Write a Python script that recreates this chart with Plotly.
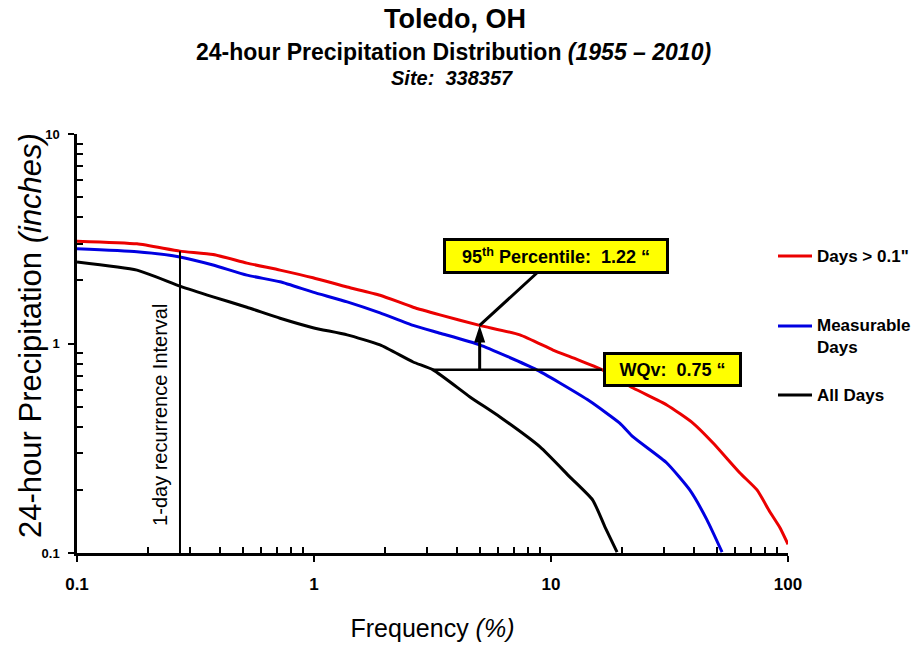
import math
import plotly.graph_objects as go

# ---- data ----
red_x = [0.1, 0.179, 0.272, 0.375, 0.521, 0.719, 0.99, 1.38, 1.90, 2.62, 3.40, 5.0, 7.39, 10.2, 12.4,
         16.4, 22.2, 30.8, 39.7, 48.3, 62.7, 74.0, 83.9, 92.5, 100]
red_y = [3.08, 2.99, 2.76, 2.66, 2.42, 2.24, 2.06, 1.86, 1.70, 1.49, 1.37, 1.22, 1.10, 0.931, 0.853,
         0.75, 0.613, 0.509, 0.417, 0.335, 0.241, 0.200, 0.157, 0.132, 0.11]

blue_x = [0.1, 0.179, 0.272, 0.375, 0.521, 0.719, 0.99, 1.38, 1.90, 2.62, 3.40, 5.0, 8.56, 10.9,
          14.6, 19.5, 22.2, 30.8, 38.5, 45.5, 52.7]
blue_y = [2.83, 2.74, 2.59, 2.37, 2.12, 1.97, 1.76, 1.58, 1.40, 1.22, 1.12, 0.985, 0.756, 0.648,
          0.53, 0.417, 0.358, 0.269, 0.200, 0.144, 0.101]

black_x = [0.1, 0.179, 0.272, 0.375, 0.521, 0.719, 0.99, 1.38, 1.90, 2.62, 3.18, 4.55, 6.09, 8.99,
           12.0, 15.0, 16.9, 19.0]
black_y = [2.45, 2.24, 1.88, 1.67, 1.49, 1.32, 1.19, 1.10, 0.985, 0.816, 0.748, 0.556, 0.446, 0.321,
           0.231, 0.179, 0.133, 0.101]

series_names = ['Days > 0.1"', "Measurable<br>Days", "All Days"]
series_colors = ["rgb(235,0,0)", "rgb(0,0,225)", "black"]

recurrence_x = 0.272          # 1-day recurrence interval (% frequency)
recurrence_top = 2.76
wqv_value = 0.75
wqv_x = [3.18, 16.4]
p95_x = 5.0
p95_value = 1.22

x_tick_vals = [0.1, 1, 10, 100]
x_tick_text = ["0.1", "1", "10", "100"]
y_tick_vals = [0.1, 1, 10]
y_tick_text = ["0.1", "1", "10"]

FONT = "Arial, Liberation Sans, sans-serif"


def minor_vals(major):
    out = []
    for m in major[:-1]:
        out += [m * k for k in range(2, 10)]
    return out


fig = go.Figure()
for xs, ys, nm, col in zip([red_x, blue_x, black_x], [red_y, blue_y, black_y], series_names, series_colors):
    fig.add_trace(go.Scatter(x=xs, y=ys, mode="lines", name=nm,
                             line=dict(color=col, width=3, shape="spline", smoothing=0.5),
                             showlegend=False))

# recurrence line
fig.add_trace(go.Scatter(x=[recurrence_x, recurrence_x], y=[0.1, recurrence_top], mode="lines",
                         line=dict(color="black", width=2), showlegend=False, hoverinfo="skip"))
# WQv horizontal line
fig.add_trace(go.Scatter(x=wqv_x, y=[wqv_value, wqv_value], mode="lines",
                         line=dict(color="black", width=2.5), showlegend=False, hoverinfo="skip"))
# vertical arrow WQv -> 95th percentile
fig.add_trace(go.Scatter(x=[p95_x, p95_x], y=[wqv_value, p95_value], mode="lines+markers",
                         line=dict(color="black", width=3),
                         marker=dict(symbol=["circle", "arrow"], size=[0, 18], color="black",
                                     opacity=1, line=dict(width=0), angleref="previous"),
                         showlegend=False, hoverinfo="skip"))

L = math.log10
annotations = []
# 95th percentile box with pointer
annotations.append(dict(x=L(p95_x), y=L(p95_value), ax=1.021, ay=0.420,
                        xref="x", yref="y", axref="x", ayref="y", showarrow=True,
                        arrowhead=0, arrowwidth=3, arrowcolor="black",
                        text="<b>95<sup>th</sup> Percentile:  1.22 \u201c</b>",
                        font=dict(family=FONT, size=18, color="black"),
                        bgcolor="rgb(255,255,0)", bordercolor="black", borderwidth=3, borderpad=2,
                        width=216, height=26))
# WQv box
annotations.append(dict(x=1.511, y=L(wqv_value), xref="x", yref="y", showarrow=False,
                        text="<b>WQv:\u00a0 0.75 \u201c</b>",
                        font=dict(family=FONT, size=18, color="black"),
                        bgcolor="rgb(255,255,0)", bordercolor="black", borderwidth=3, borderpad=2,
                        width=129, height=25))
# recurrence label
annotations.append(dict(x=-0.650, y=-0.341, xref="x", yref="y", showarrow=False, textangle=-90,
                        text="1-day recurrence Interval", font=dict(family=FONT, size=20, color="black")))


def px2paper(px, py):
    return (px - 77) / 711.0, (553 - py) / 419.0


# titles
tx, ty = px2paper(455, 19)
annotations.append(dict(x=tx, y=ty, xref="paper", yref="paper", showarrow=False,
                        xanchor="center", yanchor="middle",
                        text="<b>Toledo, OH</b>", font=dict(family=FONT, size=27, color="black")))
tx, ty = px2paper(453, 52)
annotations.append(dict(x=tx, y=ty, xref="paper", yref="paper", showarrow=False,
                        xanchor="center", yanchor="middle",
                        text="<b>24-hour Precipitation Distribution <i>(1955 \u2013 2010)</i></b>",
                        font=dict(family=FONT, size=23, color="black")))
tx, ty = px2paper(452, 78)
annotations.append(dict(x=tx, y=ty, xref="paper", yref="paper", showarrow=False,
                        xanchor="center", yanchor="middle",
                        text="<b><i>Site:\u00a0 338357</i></b>",
                        font=dict(family=FONT, size=20, color="black")))
# y-axis title
tx, ty = px2paper(30, 336)
annotations.append(dict(x=tx, y=ty, xref="paper", yref="paper", showarrow=False, textangle=-90,
                        xanchor="center", yanchor="middle",
                        text="24-hour Precipitation <i>(inches)</i>",
                        font=dict(family=FONT, size=31, color="black")))

# manual legend
shapes = []
legend_rows = [(256, 256), (326, 314), (395, 395)]
for (line_y, text_y), nm, col in zip(legend_rows, series_names, series_colors):
    x0, y0 = px2paper(778, line_y)
    x1, _ = px2paper(812, line_y)
    shapes.append(dict(type="line", xref="paper", yref="paper", x0=x0, x1=x1, y0=y0, y1=y0,
                       line=dict(color=col, width=3)))
    tx, ty = px2paper(815, text_y)
    annotations.append(dict(x=tx, y=ty, xref="paper", yref="paper", showarrow=False,
                            xanchor="left", yanchor="top" if "<br>" in nm else "middle",
                            align="left", text="<b>" + nm + "</b>",
                            font=dict(family=FONT, size=17, color="black")))

fig.update_layout(
    width=919, height=646,
    margin=dict(l=77, r=131, t=134, b=93, autoexpand=False),
    plot_bgcolor="white", paper_bgcolor="white",
    font=dict(family=FONT, color="black"),
    annotations=annotations, shapes=shapes, showlegend=False,
)
fig.update_xaxes(type="log", range=[-1, 2], showline=True, linecolor="black", linewidth=2.5,
                 automargin=False,
                 ticks="outside", ticklen=6, tickwidth=2, tickcolor="black",
                 tickmode="array", tickvals=x_tick_vals, ticktext=x_tick_text,
                 tickfont=dict(family=FONT, size=17, color="black", weight="bold"),
                 ticklabelstandoff=8,
                 minor=dict(ticks="inside", ticklen=6, tickwidth=1.5, tickcolor="black",
                            tickmode="array", tickvals=minor_vals(x_tick_vals), showgrid=False),
                 showgrid=False, zeroline=False,
                 title=dict(text="Frequency <i>(%)</i>", font=dict(family=FONT, size=25, color="black"),
                            standoff=27))
fig.update_yaxes(type="log", range=[-1, 1], showline=True, linecolor="black", linewidth=2.5,
                 automargin=False,
                 ticks="outside", ticklen=6, tickwidth=2, tickcolor="black",
                 tickmode="array", tickvals=y_tick_vals, ticktext=y_tick_text,
                 tickfont=dict(family=FONT, size=13, color="black", weight="bold"),
                 ticklabelstandoff=6,
                 minor=dict(ticks="inside", ticklen=6, tickwidth=1.5, tickcolor="black",
                            tickmode="array", tickvals=minor_vals(y_tick_vals), showgrid=False),
                 showgrid=False, zeroline=False)

fig.write_html("out.html")
